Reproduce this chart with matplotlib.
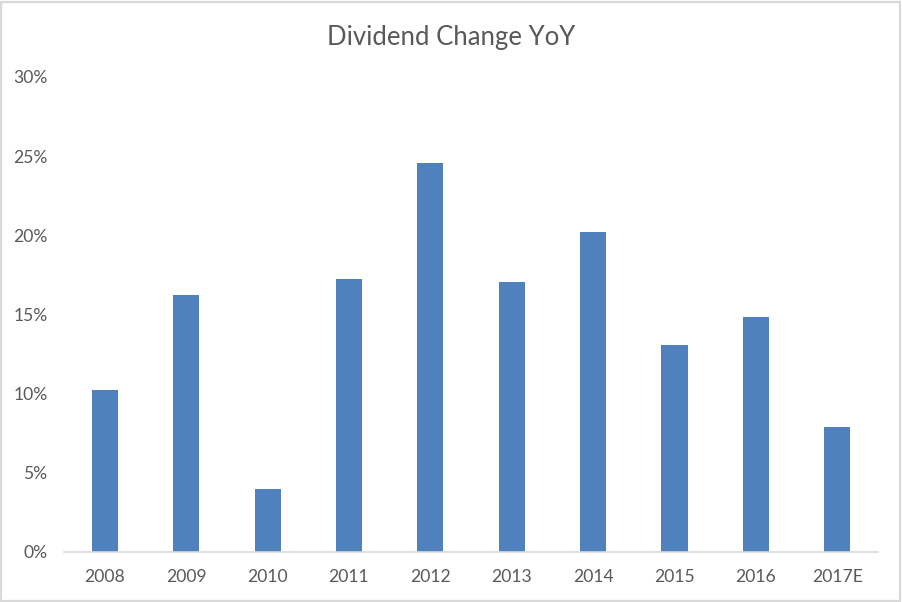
import matplotlib.pyplot as plt
from matplotlib.patches import Rectangle
from matplotlib.ticker import FuncFormatter

# data
years = ['2008', '2009', '2010', '2011', '2012', '2013', '2014', '2015', '2016', '2017E']
div_change = [0.1023, 0.1623, 0.0398, 0.1724, 0.2457, 0.1705, 0.2021, 0.1307, 0.1484, 0.0789]

plt.rcParams['font.family'] = ['Lato', 'DejaVu Sans']
text_color = '#595959'
bar_color = '#4F81BD'
line_color = '#D9D9D9'

fig = plt.figure(figsize=(9.02, 6.02), dpi=100)
ax = fig.add_axes([0.071, 0.0831, 0.9024, 0.789])

ax.bar(range(len(years)), div_change, width=0.32, color=bar_color, zorder=2)

ax.set_xlim(-0.5, len(years) - 0.5)
ax.set_ylim(0, 0.30)
ax.set_yticks([0, 0.05, 0.10, 0.15, 0.20, 0.25, 0.30])
ax.yaxis.set_major_formatter(FuncFormatter(lambda v, _: f'{v * 100:.0f}%'))
ax.set_xticks(range(len(years)))
ax.set_xticklabels(years)

for side in ['top', 'right', 'left']:
    ax.spines[side].set_visible(False)
ax.spines['bottom'].set_color(line_color)
ax.spines['bottom'].set_linewidth(1.2)

ax.tick_params(axis='both', length=0, labelsize=12.6, colors=text_color)
ax.tick_params(axis='x', pad=12.5)
ax.tick_params(axis='y', pad=12)

fig.text(0.5, 0.938, 'Dividend Change YoY', ha='center', va='center',
         fontsize=18.5, color=text_color)

# outer chart border
fig.patches.append(Rectangle((0.001, 0.002), 0.997, 0.995, transform=fig.transFigure,
                             fill=False, edgecolor=line_color, linewidth=1.6))

fig.savefig('out.png', dpi=100)
